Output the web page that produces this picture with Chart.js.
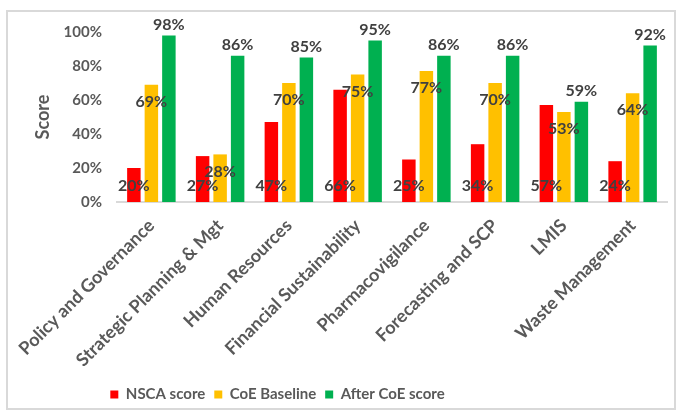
<!DOCTYPE html>
<html>
<head>
<meta charset="utf-8">
<script src="https://cdn.jsdelivr.net/npm/chart.js@4.4.1/dist/chart.umd.min.js"></script>
<style>
  html, body { margin: 0; padding: 0; background: #fff; }
  .frame {
    position: absolute; left: 6px; top: 10px;
    width: 666px; height: 396px;
    border: 2px solid #d9d9d9;
  }
  canvas { display: block; }
</style>
</head>
<body>
<div class="frame"><canvas id="chart" width="666" height="396"></canvas></div>
<script>
// areas assessed
const categories = [
  'Policy and Governance', 'Strategic Planning & Mgt', 'Human Resources',
  'Financial Sustainability', 'Pharmacovigilance', 'Forecasting and SCP',
  'LMIS', 'Waste Management'
];

// scores in %
const nscaScore     = [20, 27, 47, 66, 25, 34, 57, 24];
const coeBaseline   = [69, 28, 70, 75, 77, 70, 53, 64];
const afterCoeScore = [98, 86, 85, 95, 86, 86, 59, 92];

const yTicks = [0, 20, 40, 60, 80, 100];

const textCol = '#595959';
const font = 'Lato';

// value labels: red at the base, yellow inside the top, green above the bar
const valueLabels = {
  id: 'valueLabels',
  afterDatasetsDraw(chart) {
    const ctx = chart.ctx;
    ctx.save();
    ctx.font = 'bold 16px ' + font;
    ctx.fillStyle = '#404040';
    ctx.textAlign = 'center';
    ctx.textBaseline = 'middle';
    chart.data.datasets.forEach((ds, i) => {
      chart.getDatasetMeta(i).data.forEach((bar, j) => {
        let y;
        if (i === 0)      y = bar.base - 16;
        else if (i === 1) y = bar.y + 17;
        else              y = bar.y - 11;
        ctx.fillText(ds.data[j] + '%', bar.x, y);
      });
    });
    ctx.restore();
  }
};

// excel centres the legend under the plot, not the whole frame
const legendShift = {
  id: 'legendShift',
  afterLayout(chart) {
    const lg = chart.legend;
    lg.left -= 60; lg.right -= 60;
    lg.top += 4;  lg.bottom += 4;
  }
};

new Chart(document.getElementById('chart'), {
  type: 'bar',
  data: {
    labels: categories,
    datasets: [
      { label: 'NSCA score',      data: nscaScore,     backgroundColor: '#ff0000' },
      { label: 'CoE Baseline',    data: coeBaseline,   backgroundColor: '#ffc000' },
      { label: 'After CoE score', data: afterCoeScore, backgroundColor: '#00b050' },
    ],
  },
  options: {
    responsive: false,
    animation: false,
    categoryPercentage: 0.764,
    barPercentage: 0.77,
    layout: { padding: { top: 20, right: 7, bottom: 0, left: 0 } },
    plugins: {
      legend: {
        position: 'bottom',
        labels: {
          boxWidth: 8, boxHeight: 8, padding: 9,
          color: textCol,
          font: { size: 15, weight: 'bold', family: font },
        },
      },
      tooltip: { enabled: false },
    },
    scales: {
      x: {
        grid: { display: false, drawTicks: false },
        border: { display: true, color: '#d9d9d9', width: 2 },
        ticks: {
          color: textCol, minRotation: 45, maxRotation: 45, padding: 13,
          autoSkip: false,
          font: { size: 18, weight: 'bold', family: font },
        },
        afterFit: s => { s.height = 172; s.paddingLeft = 0; s.paddingRight = 0; },
      },
      y: {
        min: 0, max: 100,
        grid: { display: false, drawTicks: false },
        border: { display: false },
        afterBuildTicks: s => { s.ticks = yTicks.map(v => ({ value: v })); },
        ticks: {
          color: textCol, padding: 15,
          font: { size: 15, weight: 'bold', family: font },
          callback: v => v + '%',
        },
        title: {
          display: true, text: 'Score', color: textCol,
          font: { size: 18, weight: 'bold', family: font },
          padding: { top: 24, bottom: 0 },
        },
        afterFit: s => { s.width = 109; s.paddingTop = 0; s.paddingBottom = 0; },
      },
    },
  },
  plugins: [valueLabels, legendShift],
});
</script>
</body>
</html>
